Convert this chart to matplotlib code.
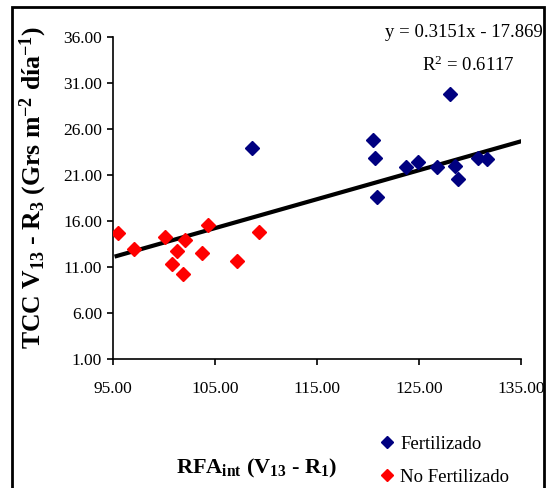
import matplotlib
matplotlib.use('Agg')
from matplotlib import pyplot as plt
from matplotlib.patches import Rectangle
import numpy as np

plt.rcParams['font.family'] = ['Liberation Serif', 'DejaVu Serif']
plt.rcParams['mathtext.fontset'] = 'custom'
plt.rcParams['mathtext.rm'] = 'Liberation Serif'
plt.rcParams['mathtext.it'] = 'Liberation Serif:italic'
plt.rcParams['mathtext.bf'] = 'Liberation Serif:bold'

# Fertilizado
fert_x = [108.67, 120.53, 120.69, 120.86, 123.73, 124.93, 126.76, 128.04, 128.56, 128.86, 130.76, 131.70]
fert_y = [23.9, 24.8, 22.9, 18.6, 21.87, 22.44, 21.87, 29.8, 22.0, 20.55, 22.9, 22.7]

# No fertilizado
nof_x = [95.45, 97.03, 100.06, 100.81, 101.27, 101.89, 102.05, 103.69, 104.28, 107.15, 109.27]
nof_y = [14.65, 12.95, 14.25, 11.27, 12.69, 10.18, 13.96, 12.5, 15.52, 11.68, 14.83]

slope, intercept = 0.3151, -17.869
xticks = [95, 105, 115, 125, 135]
yticks = [1, 6, 11, 16, 21, 26, 31, 36]

fig = plt.figure(figsize=(5.52, 4.88), dpi=100)
ax = fig.add_axes([0.2047, 0.265, 0.739, 0.6586])

ax.plot(fert_x, fert_y, 'D', color='#000080', ms=7.5, label='Fertilizado', zorder=3)
ax.plot(nof_x, nof_y, 'D', color='#FF0000', ms=7.5, label='No Fertilizado', zorder=3)

xl = np.array([min(nof_x) - 0.1, 135])
ax.plot(xl, slope * xl + intercept, color='black', lw=3, zorder=2)

ax.set_xlim(95, 135)
ax.set_ylim(1, 36)
ax.set_xticks(xticks)
ax.set_yticks(yticks)
ax.set_xticklabels(['%.2f' % v for v in xticks])
ax.set_yticklabels(['%.2f' % v for v in yticks])
ax.tick_params(direction='out', length=4, width=1.2, labelsize=12.5, color='black')
ax.tick_params(axis='x', pad=12)
ax.tick_params(axis='y', pad=4)
for s in ['top', 'right']:
    ax.spines[s].set_visible(False)
for s in ['left', 'bottom']:
    ax.spines[s].set_linewidth(1.2)

fig.text(0.06, 0.616, r'TCC V$_{\mathbf{13}}$ - R$_{\mathbf{3}}$ (Grs m$^{\mathbf{-2}}$ día$^{\mathbf{-1}}$)',
         rotation=90, ha='center', va='center', fontsize=18.5, fontweight='bold')
fig.text(0.465, 0.04, r'RFA$_{\mathbf{int}}$ (V$_{\mathbf{13}}$ - R$_{\mathbf{1}}$)',
         ha='center', va='center', fontsize=16, fontweight='bold')

fig.text(0.984, 0.934, 'y = 0.3151x - 17.869', ha='right', va='center', fontsize=13.5)
fig.text(0.848, 0.867, r'R$^2$ = 0.6117', ha='center', va='center', fontsize=13.5)

fig.legend(loc='center left', bbox_to_anchor=(0.654, 0.056), frameon=False,
           fontsize=13.5, handletextpad=0.2, markerscale=0.8, labelspacing=0.85,
           handlelength=1.0)

fig.patches.append(Rectangle((0.022, -0.05), 0.963, 1.036, transform=fig.transFigure,
                             fill=False, edgecolor='black', lw=2))

fig.savefig('out.png', dpi=100)
